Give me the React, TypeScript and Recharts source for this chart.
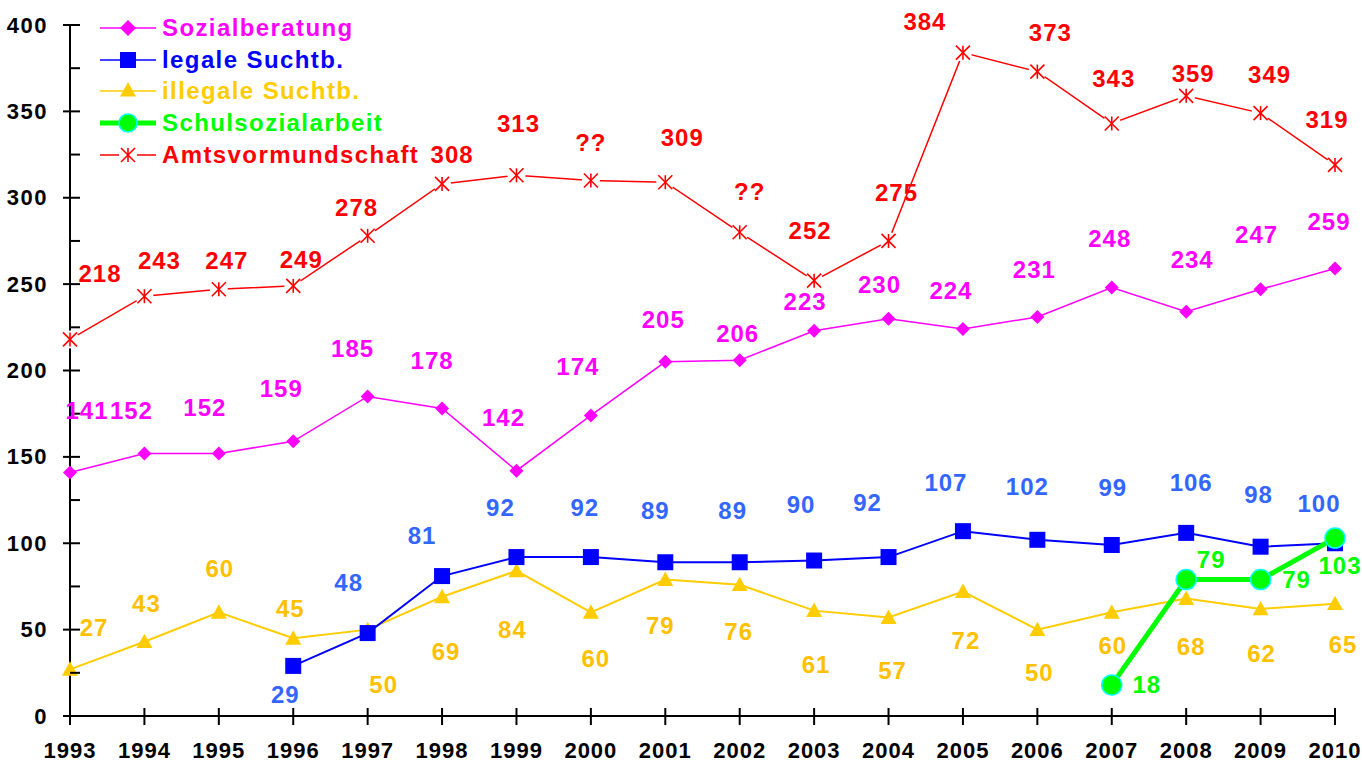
import { LineChart, Line, XAxis, YAxis, Legend } from "recharts";

const years = [1993, 1994, 1995, 1996, 1997, 1998, 1999, 2000, 2001, 2002, 2003, 2004, 2005, 2006, 2007, 2008, 2009, 2010];
const sozialberatung = [141, 152, 152, 159, 185, 178, 142, 174, 205, 206, 223, 230, 224, 231, 248, 234, 247, 259];
const legaleSucht = [null, null, null, 29, 48, 81, 92, 92, 89, 89, 90, 92, 107, 102, 99, 106, 98, 100];
const illegaleSucht = [27, 43, 60, 45, 50, 69, 84, 60, 79, 76, 61, 57, 72, 50, 60, 68, 62, 65];
const schulsozial = [null, null, null, null, null, null, null, null, null, null, null, null, null, null, 18, 79, 79, 103];
const amtsvormundschaft = [218, 243, 247, 249, 278, 308, 313, 310, 309, 280, 252, 275, 384, 373, 343, 359, 349, 319];
const amtsLabels = ["218", "243", "247", "249", "278", "308", "313", "??", "309", "??", "252", "275", "384", "373", "343", "359", "349", "319"];
const yTicks = [0, 25, 50, 75, 100, 125, 150, 175, 200, 225, 250, 275, 300, 325, 350, 375, 400];

// label placement (dx, dy from the point)
const sozialOffsets = [[17, -62], [-13, -43], [-14, -46], [-12, -53], [-15, -48], [-10, -48], [-13, -53], [-13, -49], [-2, -42], [-2, -27], [-9, -29], [-9, -34], [-12, -39], [-3, -47], [-2, -49], [6, -52], [-4, -55], [-6, -47]];
const amtsOffsets = [[30, -66], [15, -36], [8, -29], [8, -26], [-11, -28], [10, -29], [2, -52], [0, -38], [17, -45], [10, -41], [-4, -50], [8, -48], [-38, -31], [13, -39], [2, -45], [7, -22], [9, -39], [-8, -45]];
const legaleOffsets = [[0, 0], [0, 0], [0, 0], [-8, 29], [-19, -51], [-20, -41], [-16, -50], [-6, -50], [-10, -52], [-7, -52], [-13, -56], [-21, -55], [-17, -49], [-10, -53], [1, -57], [5, -50], [-2, -52], [-16, -40]];
const illegaleOffsets = [[24, -42], [2, -38], [1, -44], [-3, -30], [16, 55], [4, 55], [-4, 59], [5, 46], [-5, 46], [-1, 47], [2, 54], [4, 53], [3, 49], [2, 43], [1, 33], [5, 48], [1, 45], [8, 41]];
const schulOffsets = [[0, 0], [0, 0], [0, 0], [0, 0], [0, 0], [0, 0], [0, 0], [0, 0], [0, 0], [0, 0], [0, 0], [0, 0], [0, 0], [0, 0], [35, 0], [25, -20], [36, 0], [5, 27]];

const data = years.map((year, i) => ({
  year,
  sozial: sozialberatung[i],
  legale: legaleSucht[i],
  illegale: illegaleSucht[i],
  schul: schulsozial[i],
  amts: amtsvormundschaft[i],
}));

const FONT = "'Liberation Sans', Arial, sans-serif";

const Diamond = ({ cx, cy, color, s = 7 }: any) =>
  cx == null || cy == null ? null : (
    <polygon points={`${cx},${cy - s} ${cx + s},${cy} ${cx},${cy + s} ${cx - s},${cy}`} fill={color} />
  );
const Square = ({ cx, cy, color, s = 8 }: any) =>
  cx == null || cy == null ? null : <rect x={cx - s} y={cy - s} width={s * 2} height={s * 2} fill={color} />;
const Triangle = ({ cx, cy, color, s = 8 }: any) =>
  cx == null || cy == null ? null : (
    <polygon points={`${cx},${cy - s} ${cx + s},${cy + s * 0.8} ${cx - s},${cy + s * 0.8}`} fill={color} />
  );
const Circle = ({ cx, cy, r = 10 }: any) =>
  cx == null || cy == null ? null : <circle cx={cx} cy={cy} r={r} fill="#00FF00" stroke="#00FFFF" strokeWidth={1.5} />;
const Star = ({ cx, cy, s = 7, bg = true }: any) =>
  cx == null || cy == null ? null : (
    <g stroke="#FF0000" strokeWidth={1.6}>
      {bg && <circle cx={cx} cy={cy} r={9} fill="#fff" stroke="none" />}
      <line x1={cx} y1={cy - s} x2={cx} y2={cy + s} />
      <line x1={cx - s} y1={cy - s} x2={cx + s} y2={cy + s} />
      <line x1={cx - s} y1={cy + s} x2={cx + s} y2={cy - s} />
    </g>
  );

const makeLabel = (color: string, offsets: number[][], texts?: string[]) => (props: any) => {
  const { x, y, index, value } = props;
  if (value == null || x == null || y == null) return null;
  const [dx, dy] = offsets[index];
  return (
    <text
      key={`l${index}`}
      x={x + dx}
      y={y + dy}
      textAnchor="middle"
      dominantBaseline="central"
      fill={color}
      fontFamily={FONT}
      fontWeight="bold"
      fontSize={24}
      letterSpacing={1}
    >
      {texts ? texts[index] : value}
    </text>
  );
};

const YTick = ({ x, y, payload }: any) => {
  const major = payload.value % 50 === 0;
  return (
    <g>
      <line x1={major ? x - 7 : x} x2={x + 10} y1={y} y2={y} stroke="#000" strokeWidth={2} />
      {major && (
        <text x={x - 22} y={y} textAnchor="end" dominantBaseline="central" fontFamily={FONT} fontWeight="bold" fontSize={22} letterSpacing={1.5} fill="#000">
          {payload.value}
        </text>
      )}
    </g>
  );
};

const XTick = ({ x, y, payload }: any) => (
  <g>
    <line x1={x} x2={x} y1={y - 8} y2={y + 9} stroke="#000" strokeWidth={2} />
    <text x={x} y={y + 34} textAnchor="middle" dominantBaseline="central" fontFamily={FONT} fontWeight="bold" fontSize={22} letterSpacing={1} fill="#000">
      {payload.value}
    </text>
  </g>
);

const legendItems = [
  { name: "Sozialberatung", color: "#FF00FF", width: 1.5, icon: (c: number) => <Diamond cx={c} cy={16} color="#FF00FF" s={8} /> },
  { name: "legale Suchtb.", color: "#0000FF", width: 1.5, icon: (c: number) => <Square cx={c} cy={16} color="#0000FF" s={8} /> },
  { name: "illegale Suchtb.", color: "#FFCC00", width: 1.5, icon: (c: number) => <Triangle cx={c} cy={15} color="#FFCC00" s={8} /> },
  { name: "Schulsozialarbeit", color: "#00FF00", width: 5, icon: (c: number) => <Circle cx={c} cy={16} r={9} /> },
  { name: "Amtsvormundschaft", color: "#FF0000", width: 1.5, icon: (c: number) => <Star cx={c} cy={16} s={7} /> },
];

const LegendBox = () => (
  <div style={{ fontFamily: FONT, fontWeight: "bold", fontSize: 24, letterSpacing: 1.4 }}>
    {legendItems.map((item) => (
      <div key={item.name} style={{ display: "flex", alignItems: "center", height: 31.7 }}>
        <svg width={64} height={32} style={{ display: "block" }}>
          <line x1={2} x2={58} y1={16} y2={16} stroke={item.color} strokeWidth={item.width} />
          {item.icon(30)}
        </svg>
        <span style={{ color: item.color, lineHeight: "32px", whiteSpace: "nowrap" }}>{item.name}</span>
      </div>
    ))}
  </div>
);

export default function App() {
  return (
    <div style={{ position: "absolute", left: 0, top: 0, background: "#fff" }}>
      <LineChart width={1362} height={762} data={data} margin={{ top: 25, right: 27, left: 0, bottom: 0 }}>
        <XAxis
          dataKey="year"
          type="number"
          domain={[1993, 2010]}
          ticks={years}
          height={46}
          tickSize={0}
          tickMargin={0}
          tick={<XTick />}
          stroke="#000"
          strokeWidth={2}
          interval={0}
        />
        <YAxis
          type="number"
          domain={[0, 400]}
          ticks={yTicks}
          width={70}
          tickSize={0}
          tickMargin={0}
          tick={<YTick />}
          stroke="#000"
          strokeWidth={2}
          interval={0}
        />
        <Legend
          layout="vertical"
          align="center"
          verticalAlign="middle"
          content={<LegendBox />}
          wrapperStyle={{ left: 98, top: 12, width: 420, height: 160 }}
        />
        <Line
          dataKey="amts"
          name="Amtsvormundschaft"
          stroke="#FF0000"
          strokeWidth={1.5}
          isAnimationActive={false}
          dot={(p: any) => <Star key={`a${p.index}`} cx={p.cx} cy={p.cy} />}
          label={makeLabel("#FF0000", amtsOffsets, amtsLabels)}
        />
        <Line
          dataKey="sozial"
          name="Sozialberatung"
          stroke="#FF00FF"
          strokeWidth={1.5}
          isAnimationActive={false}
          dot={(p: any) => <Diamond key={`s${p.index}`} cx={p.cx} cy={p.cy} color="#FF00FF" />}
          label={makeLabel("#FF00FF", sozialOffsets)}
        />
        <Line
          dataKey="illegale"
          name="illegale Suchtb."
          stroke="#FFCC00"
          strokeWidth={2}
          isAnimationActive={false}
          dot={(p: any) => <Triangle key={`i${p.index}`} cx={p.cx} cy={p.cy} color="#FFCC00" />}
          label={makeLabel("#FFC000", illegaleOffsets)}
        />
        <Line
          dataKey="legale"
          name="legale Suchtb."
          stroke="#0000FF"
          strokeWidth={2}
          isAnimationActive={false}
          dot={(p: any) => <Square key={`g${p.index}`} cx={p.cx} cy={p.cy} color="#0000FF" />}
          label={makeLabel("#3366FF", legaleOffsets)}
        />
        <Line
          dataKey="schul"
          name="Schulsozialarbeit"
          stroke="#00FF00"
          strokeWidth={5}
          isAnimationActive={false}
          dot={(p: any) => <Circle key={`c${p.index}`} cx={p.cx} cy={p.cy} />}
          label={makeLabel("#00FF00", schulOffsets)}
        />
      </LineChart>
    </div>
  );
}
